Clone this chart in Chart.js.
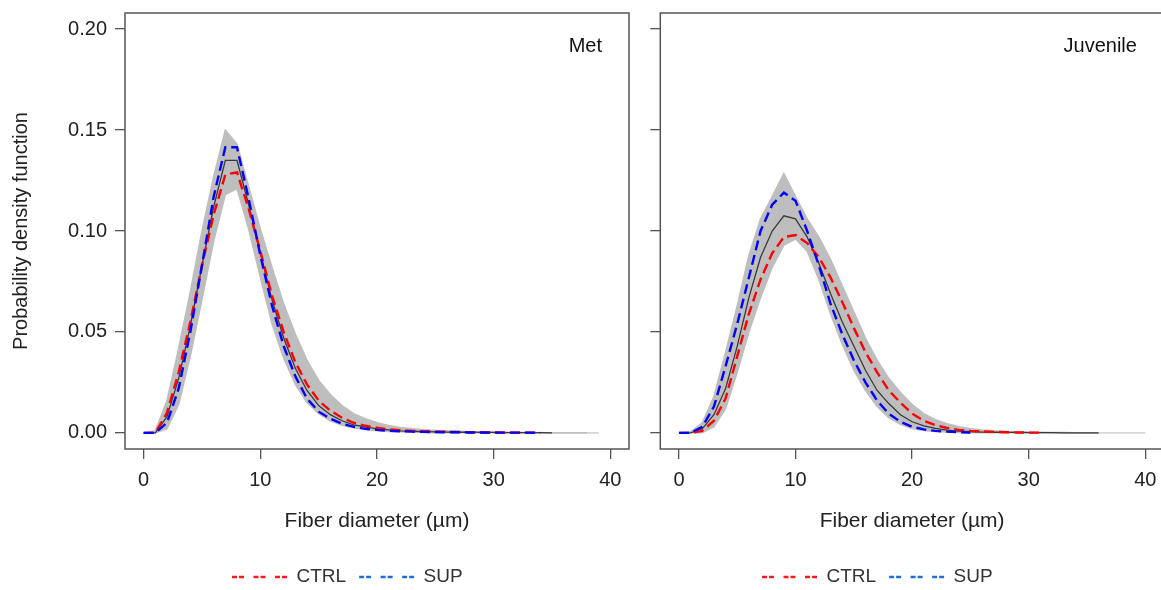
<!DOCTYPE html>
<html><head><meta charset="utf-8">
<script src="https://cdn.jsdelivr.net/npm/chart.js@4"></script>
<style>
html,body{margin:0;padding:0;background:#fff;overflow:hidden;width:1161px;height:590px;position:relative;}
canvas{position:absolute;top:0;}
#c1{left:0px;}
#c2{left:640px;}
</style></head><body>
<canvas id="c1" width="640" height="590"></canvas>
<canvas id="c2" width="535" height="590"></canvas>
<script>
// ---- data ----
const diameterUm = [0,1,2,3,4,5,6,7,8,9,10,11,12,13,14,15,16,17,18,19,20,21,22,23,24,25,26,27,28,29,30,31,32,33,34,35,36,37,38,39,40];
const xTicks = [0,10,20,30,40];
const yTicks = [0,0.05,0.10,0.15,0.20];
const panelNames = ['Met','Juvenile'];
const legendNames = ['CTRL','SUP'];
const xTitle = 'Fiber diameter (µm)';
const yTitle = 'Probability density function';

// Met
const metUpper = [0,0.001,0.016,0.042,0.07,0.1,0.127,0.150,0.143,0.122,0.101,0.082,0.064,0.049,0.036,0.026,0.019,0.0135,0.0095,0.007,0.005,0.0037,0.0027,0.002,0.0015,0.0012,0.001,0.0008,0.0006,0.0005,0.0004,0.0003,0.0002,0.0002,0.0001,0.0001,0.0001,0,0,0];
const metLower = [0,0,0.002,0.014,0.038,0.066,0.095,0.118,0.121,0.101,0.077,0.054,0.037,0.024,0.015,0.0095,0.006,0.0038,0.0025,0.0016,0.001,0.0007,0.0005,0.0003,0.0002,0.0001,0,0,0,0,0,0,0,0,0,0,0,0,0,0];
const metMean  = [0,0,0.008,0.027,0.053,0.083,0.112,0.135,0.135,0.113,0.089,0.066,0.047,0.032,0.021,0.0135,0.009,0.006,0.004,0.003,0.002,0.0015,0.001,0.0008,0.0006,0.0005,0.0004,0.0003,0.0003,0.0002,0.0002,0.0001,0.0001,0.0001,0.0001,0];
const metCtrl  = [0,0,0.01,0.03,0.055,0.083,0.108,0.128,0.129,0.111,0.09,0.068,0.05,0.035,0.024,0.016,0.011,0.0075,0.005,0.0035,0.0025,0.0018,0.0013,0.001,0.0008,0.0006,0.0005,0.0004,0.0003,0.0002,0.0002,0.0001,0.0001,0.0001,0];
const metSup   = [0,0,0.005,0.022,0.05,0.083,0.117,0.1415,0.1415,0.116,0.088,0.063,0.043,0.028,0.017,0.0105,0.007,0.0045,0.003,0.002,0.0015,0.001,0.0008,0.0006,0.0005,0.0004,0.0003,0.0003,0.0002,0.0002,0.0001,0.0001,0.0001,0.0001,0];

// Juvenile
const juvUpper = [0,0.0005,0.005,0.018,0.04,0.063,0.088,0.106,0.117,0.1285,0.117,0.106,0.097,0.086,0.073,0.06,0.047,0.036,0.027,0.02,0.014,0.0095,0.0065,0.0045,0.003,0.002,0.0014,0.001,0.0007,0.0005,0.0004,0.0003,0.0002,0.0002,0.0001,0.0001,0.0001,0,0,0,0];
const juvLower = [0,0,0,0.003,0.012,0.03,0.05,0.067,0.082,0.093,0.096,0.09,0.076,0.059,0.044,0.031,0.021,0.013,0.0075,0.0042,0.0022,0.0012,0.0007,0.0004,0.0002,0,0,0,0,0,0,0,0,0,0,0,0,0,0,0,0];
const juvMean  = [0,0,0.002,0.009,0.022,0.043,0.067,0.087,0.1,0.1075,0.106,0.097,0.084,0.069,0.055,0.043,0.031,0.021,0.0145,0.009,0.0055,0.0035,0.0022,0.0014,0.0009,0.0006,0.0004,0.0003,0.0002,0.0002,0.0001,0.0001,0.0001,0,0,0,0];
const juvCtrl  = [0,0,0.001,0.006,0.017,0.038,0.059,0.076,0.089,0.097,0.098,0.094,0.087,0.077,0.065,0.052,0.04,0.03,0.021,0.015,0.0095,0.006,0.0038,0.0024,0.0015,0.001,0.0007,0.0005,0.0003,0.0002,0.0001,0.0001];
const juvSup   = [0,0,0.003,0.013,0.033,0.054,0.077,0.1,0.113,0.119,0.115,0.1,0.083,0.064,0.049,0.036,0.025,0.016,0.0095,0.0055,0.003,0.0017,0.001,0.0006,0.0003,0.0001];

// ---- styles ----
const FONT = "'Liberation Sans', Arial, sans-serif";
Chart.defaults.font.family = FONT;
const BAND = '#bebebe', BAND_TAIL = '#d8d8d8', AXIS = '#555555', TXT = '#222222';
const LEG_COL = {CTRL:'#ff1a1a', SUP:'#1f6fd2'};

const pts = vals => vals.map((v,i)=>({x: diameterUm[i], y: v}));

const boxPlugin = {
  id:'boxPlugin',
  afterDatasetsDraw(chart){
    const {ctx, chartArea:a} = chart;
    ctx.save(); ctx.strokeStyle = AXIS; ctx.lineWidth = 1.5;
    ctx.strokeRect(a.left, a.top, a.right-a.left, a.bottom-a.top);
    ctx.restore();
  }
};
const panelLabel = {
  id:'panelLabel',
  afterDraw(chart, args, o){
    const {ctx, chartArea:a} = chart;
    ctx.save(); ctx.font = '20px ' + FONT; ctx.fillStyle = '#111';
    ctx.textAlign = 'right'; ctx.textBaseline = 'middle';
    ctx.fillText(o.text, a.right - 27, 46);
    ctx.restore();
  }
};
const placeLegend = {
  id:'placeLegend',
  afterLayout(chart, args, o){
    const lg = chart.legend; if(!lg || !lg.lineWidths) return;
    const pad = lg.options.labels.padding, fs = lg.options.labels.font.size;
    const cur = (lg.left + pad + lg.right - lg.lineWidths[0]) / 2;
    const dx = o.x - cur;
    lg.left += dx; lg.right += dx;
    const dy = o.y - (lg.top + pad + fs/2);
    lg.top += dy; lg.bottom += dy;
  }
};

function makeChart(id, p){
  const ds = [
    {label:'upper', data:pts(p.upper), borderColor:BAND, backgroundColor:BAND, borderWidth:1.5, fill:'+1', order:4,
     segment:{borderColor: c => c.p0.parsed.x >= p.tail ? BAND_TAIL : BAND}},
    {label:'lower', data:pts(p.lower), borderColor:BAND, backgroundColor:BAND, borderWidth:1.5, fill:false, order:5,
     segment:{borderColor: c => c.p0.parsed.x >= p.tail ? BAND_TAIL : BAND}},
    {label:'mean', data:pts(p.mean), borderColor:'#3a3a3a', borderWidth:1.3, fill:false, order:3},
    {label:'CTRL', data:pts(p.ctrl), borderColor:'#ff0000', borderWidth:2.4, borderDash:[10,5], fill:false, order:2},
    {label:'SUP', data:pts(p.sup), borderColor:'#0000ff', borderWidth:2.4, borderDash:[10,5], fill:false, order:1}
  ];
  return new Chart(document.getElementById(id), {
    type:'line',
    data:{datasets:ds},
    plugins:[boxPlugin, panelLabel, placeLegend],
    options:{
      responsive:false, devicePixelRatio:1, animation:false,
      elements:{point:{radius:0}, line:{tension:0}},
      layout:{padding:{left:0, right:p.padR, top:13, bottom:0}},
      scales:{
        x:{type:'linear', min:-1.6, max:41.6,
           afterBuildTicks: s => { s.ticks = xTicks.map(v=>({value:v})); },
           afterFit: s => { s.height = 99; s.paddingLeft = 0; s.paddingRight = 0; },
           grid:{drawOnChartArea:false, drawTicks:true, tickLength:10, color:AXIS, lineWidth:1.3},
           border:{display:false},
           ticks:{font:{size:20}, color:TXT, padding:9, maxRotation:0, autoSkip:false, callback:v=>String(v)},
           title:{display:true, text:xTitle, font:{size:21}, color:TXT, padding:{top:0,bottom:14}}},
        y:{type:'linear', min:-0.008, max:0.208,
           afterBuildTicks: s => { s.ticks = yTicks.map(v=>({value:v})); },
           afterFit: s => { s.width = p.yw; s.paddingTop = 0; s.paddingBottom = 0; },
           grid:{drawOnChartArea:false, drawTicks:true, tickLength:10, color:AXIS, lineWidth:1.3},
           border:{display:false},
           ticks:{display:p.showY, font:{size:20}, color:TXT, padding:8, callback:v=>Number(v).toFixed(2)},
           title:{display:p.showY, text:yTitle, font:{size:20}, color:TXT, padding:{top:9.5,bottom:0}}}
      },
      plugins:{
        tooltip:{enabled:false},
        panelLabel:{text:p.name},
        placeLegend:{x:p.legX, y:577},
        legend:{display:true, position:'bottom',
          labels:{usePointStyle:true, pointStyleWidth:55, boxHeight:19, padding:13, color:'#333', font:{size:19},
            generateLabels(chart){
              const items = Chart.defaults.plugins.legend.labels.generateLabels(chart);
              return legendNames.map(n => items.find(i => i.text === n)).filter(Boolean).map(i => Object.assign(i, {
                pointStyle:'line', strokeStyle:LEG_COL[i.text], fillStyle:LEG_COL[i.text],
                lineDash:[5,2,5,9.5], lineWidth:2.6, fontColor:'#333'}));
            }}}
      }
    }
  });
}

makeChart('c1', {name:panelNames[0], upper:metUpper, lower:metLower, mean:metMean, ctrl:metCtrl, sup:metSup,
  tail:38, padR:11, yw:125, showY:true, legX:232});
makeChart('c2', {name:panelNames[1], upper:juvUpper, lower:juvLower, mean:juvMean, ctrl:juvCtrl, sup:juvSup,
  tail:36, padR:11.1, yw:20.3, showY:false, legX:122});
</script>
</body></html>
